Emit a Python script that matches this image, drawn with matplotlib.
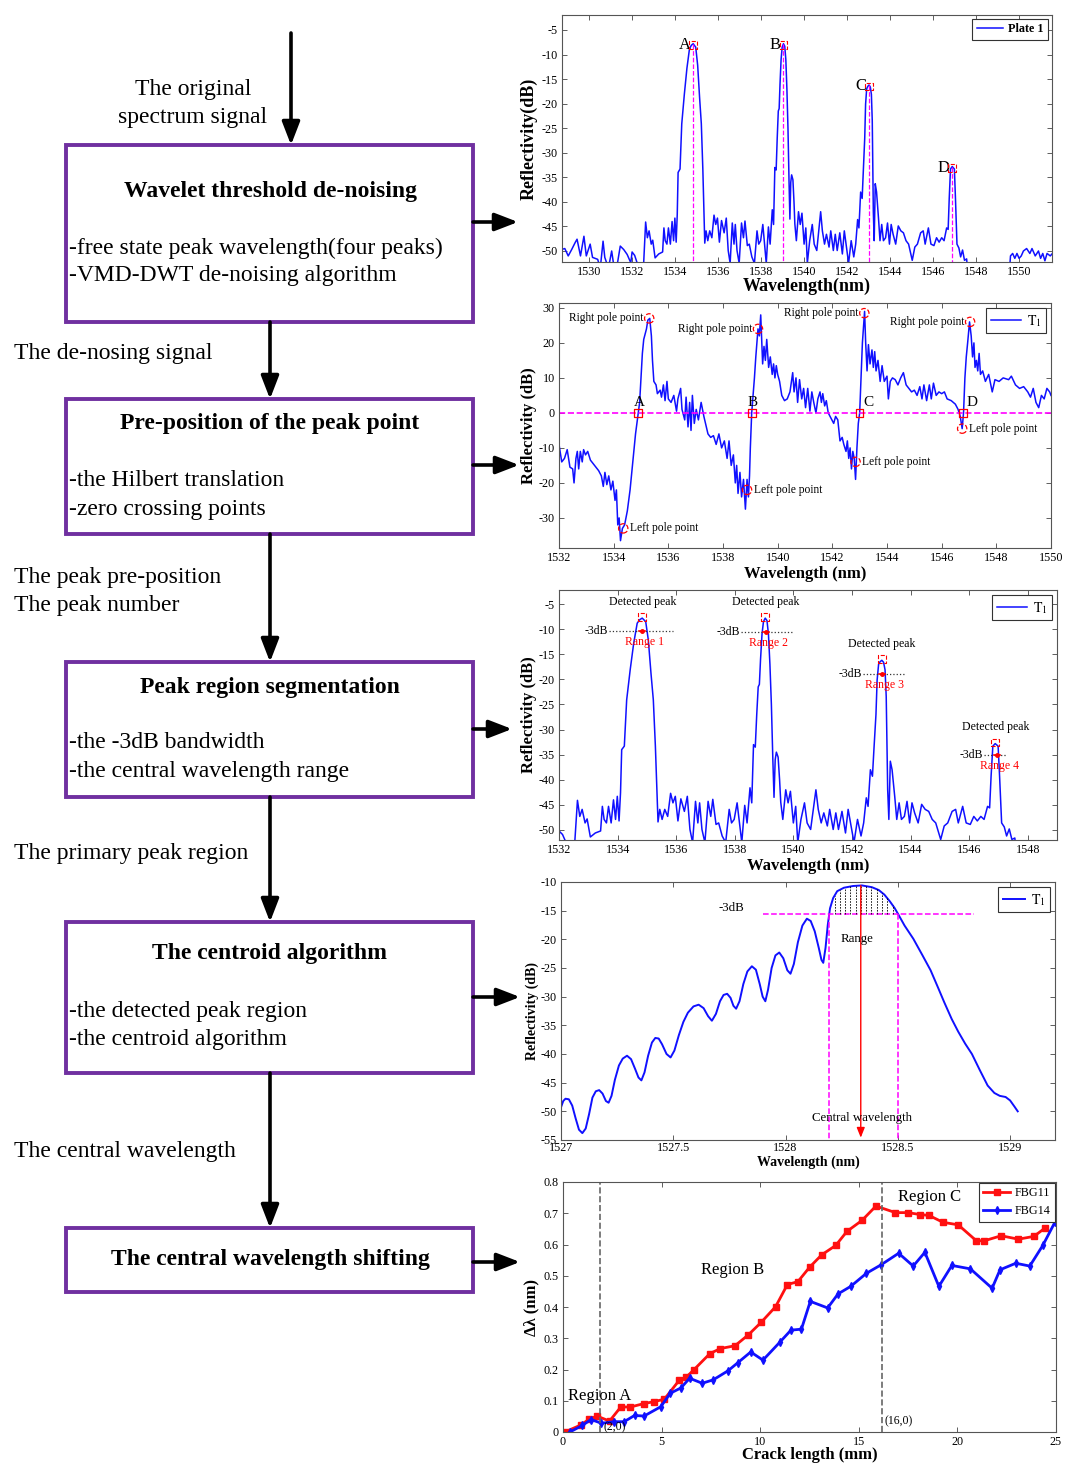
import numpy as np
import matplotlib
matplotlib.use("Agg")
import matplotlib.pyplot as plt
from matplotlib.patches import Rectangle

plt.rcParams['font.family'] = ['Liberation Serif', 'DejaVu Serif']
plt.rcParams['mathtext.fontset'] = 'stix'
plt.rcParams['axes.unicode_minus'] = False

W, H = 1065, 1463

# ---------------- data ----------------
# measured reflection spectrum (plots 1 and 3)
wl_spec = [1528.71, 1528.87, 1529.03, 1529.19, 1529.35, 1529.44, 1529.60, 1529.76, 1529.87, 1530.05,
           1530.16, 1530.40, 1530.52, 1530.65, 1530.73, 1530.90, 1531.05, 1531.13, 1531.30, 1531.45,
           1531.61, 1531.77, 1531.94, 1532.00, 1532.12, 1532.24, 1532.53, 1532.63, 1532.71, 1532.79,
           1532.89, 1532.96, 1533.07, 1533.24, 1533.42, 1533.48, 1533.54, 1533.62, 1533.69, 1533.78,
           1533.86, 1533.93, 1533.99, 1534.05, 1534.10, 1534.14, 1534.23, 1534.31, 1534.43, 1534.55,
           1534.67, 1534.76, 1534.84, 1534.96, 1535.05, 1535.14, 1535.22, 1535.29, 1535.35, 1535.38,
           1535.44, 1535.52, 1535.61, 1535.71, 1535.81, 1535.89, 1535.97, 1536.06, 1536.16, 1536.28,
           1536.38, 1536.47, 1536.56, 1536.66, 1536.74, 1536.80, 1536.88, 1536.98, 1537.09, 1537.18,
           1537.25, 1537.36, 1537.45, 1537.57, 1537.69, 1537.81, 1537.89, 1537.98, 1538.08, 1538.16,
           1538.24, 1538.34, 1538.42, 1538.52, 1538.58, 1538.64, 1538.70, 1538.75, 1538.80, 1538.84,
           1538.88, 1538.93, 1538.98, 1539.04, 1539.10, 1539.15, 1539.20, 1539.25, 1539.30, 1539.34,
           1539.38, 1539.42, 1539.48, 1539.53, 1539.57, 1539.64, 1539.74, 1539.82, 1539.90, 1540.00,
           1540.08, 1540.15, 1540.26, 1540.38, 1540.47, 1540.59, 1540.77, 1540.85, 1540.95, 1541.04,
           1541.16, 1541.24, 1541.36, 1541.45, 1541.54, 1541.66, 1541.78, 1541.87, 1541.99, 1542.07,
           1542.19, 1542.31, 1542.40, 1542.49, 1542.55, 1542.63, 1542.70, 1542.75, 1542.82, 1542.86,
           1542.91, 1542.96, 1543.02, 1543.08, 1543.13, 1543.17, 1543.22, 1543.26, 1543.31, 1543.37,
           1543.46, 1543.53, 1543.61, 1543.69, 1543.79, 1543.88, 1543.97, 1544.05, 1544.14, 1544.26,
           1544.38, 1544.50, 1544.62, 1544.74, 1544.86, 1545.03, 1545.15, 1545.27, 1545.42, 1545.54,
           1545.63, 1545.78, 1545.90, 1546.04, 1546.16, 1546.28, 1546.40, 1546.51, 1546.63, 1546.70,
           1546.75, 1546.81, 1546.89, 1546.99, 1547.04, 1547.11, 1547.20, 1547.28, 1547.37, 1547.46,
           1547.56, 1547.60, 1547.70, 1549.50, 1549.60, 1549.70, 1549.80, 1549.90, 1550.00, 1550.10,
           1550.20, 1550.35, 1550.50, 1550.60, 1550.75, 1550.90, 1551.00, 1551.10, 1551.20, 1551.30,
           1551.45, 1551.55]
db_spec = [-49.7, -49.5, -51.0, -49.7, -48.3, -47.6, -51.0, -47.0, -51.0, -48.6,
           -51.3, -51.7, -53.5, -48.0, -51.3, -53.5, -50.0, -52.4, -53.0, -49.0,
           -49.7, -50.7, -52.4, -50.2, -50.9, -52.5, -53.2, -44.1, -47.3, -45.9,
           -48.6, -47.8, -51.4, -50.6, -50.2, -45.3, -47.9, -48.6, -45.3, -48.6,
           -44.0, -47.9, -43.3, -48.2, -42.6, -34.0, -33.3, -24.1, -18.1, -12.8,
           -8.8, -8.1, -7.8, -8.5, -12.2, -18.8, -24.1, -33.3, -43.3, -48.4,
           -45.9, -47.9, -45.9, -47.3, -42.7, -44.6, -43.3, -48.2, -43.8, -46.3,
           -43.3, -49.9, -52.5, -44.3, -48.6, -44.6, -49.9, -52.5, -44.3, -47.3,
           -43.9, -48.9, -48.6, -51.2, -52.5, -45.9, -48.6, -47.9, -44.6, -48.6,
           -52.5, -45.1, -48.6, -41.6, -44.6, -33.0, -33.5, -27.0, -21.5, -21.0,
           -16.0, -11.0, -8.5, -7.8, -8.3, -11.0, -17.0, -25.0, -36.0, -43.5,
           -36.0, -34.5, -35.5, -40.0, -44.5, -47.9, -42.0, -44.6, -42.3, -48.6,
           -45.3, -52.5, -47.9, -44.6, -48.6, -49.9, -42.0, -45.9, -48.6, -46.6,
           -49.2, -45.9, -49.9, -46.6, -49.9, -46.3, -50.6, -45.9, -49.9, -52.5,
           -47.9, -51.2, -48.6, -43.6, -45.3, -38.0, -39.3, -34.0, -27.0, -20.1,
           -17.0, -16.5, -16.2, -16.6, -18.1, -23.4, -42.0, -47.9, -36.3, -38.0,
           -43.3, -47.9, -44.6, -47.9, -47.3, -44.3, -48.6, -44.6, -46.6, -48.6,
           -44.9, -45.9, -46.3, -47.9, -48.6, -51.9, -49.2, -48.6, -46.3, -45.9,
           -48.6, -45.3, -48.6, -48.9, -47.3, -48.2, -47.3, -47.9, -45.3, -45.6,
           -39.3, -33.3, -32.8, -33.3, -39.3, -48.6, -49.4, -51.2, -49.8, -51.9,
           -51.6, -53.9, -57.0, -57.0, -51.0, -50.5, -51.5, -50.5, -51.5, -51.0,
           -50.0, -49.5, -50.5, -49.5, -51.0, -50.0, -51.5, -50.5, -52.0, -50.5,
           -51.0, -50.5]

# peak positions found (A-D)
peak_labels = ['A', 'B', 'C', 'D']
peak_wl = [1534.84, 1539.04, 1543.02, 1546.89]
peak_db = [-7.8, -7.8, -16.2, -32.8]

# Hilbert transform of the spectrum (plot 2)
wl_hil = [1532.00, 1532.10, 1532.20, 1532.30, 1532.40, 1532.50, 1532.55, 1532.62, 1532.67, 1532.72,
          1532.78, 1532.85, 1532.90, 1532.97, 1533.05, 1533.15, 1533.30, 1533.45, 1533.55, 1533.62,
          1533.68, 1533.75, 1533.82, 1533.90, 1533.97, 1534.05, 1534.10, 1534.15, 1534.20, 1534.25,
          1534.32, 1534.40, 1534.50, 1534.60, 1534.70, 1534.80, 1534.90, 1534.95, 1535.00, 1535.05,
          1535.10, 1535.20, 1535.25, 1535.32, 1535.38, 1535.42, 1535.47, 1535.55, 1535.60, 1535.70,
          1535.75, 1535.82, 1535.88, 1535.95, 1536.00, 1536.10, 1536.20, 1536.30, 1536.35, 1536.45,
          1536.50, 1536.60, 1536.65, 1536.72, 1536.78, 1536.83, 1536.88, 1536.95, 1537.02, 1537.10,
          1537.20, 1537.30, 1537.45, 1537.55, 1537.65, 1537.75, 1537.85, 1537.95, 1538.05, 1538.15,
          1538.22, 1538.30, 1538.38, 1538.45, 1538.50, 1538.55, 1538.62, 1538.68, 1538.75, 1538.82,
          1538.88, 1538.93, 1538.97, 1539.00, 1539.05, 1539.10, 1539.15, 1539.20, 1539.28, 1539.33,
          1539.38, 1539.45, 1539.50, 1539.55, 1539.60, 1539.67, 1539.73, 1539.80, 1539.85, 1539.90,
          1539.95, 1540.00, 1540.07, 1540.15, 1540.25, 1540.35, 1540.45, 1540.55, 1540.60, 1540.67,
          1540.73, 1540.80, 1540.88, 1540.95, 1541.02, 1541.10, 1541.18, 1541.25, 1541.32, 1541.40,
          1541.47, 1541.55, 1541.60, 1541.65, 1541.72, 1541.78, 1541.85, 1541.95, 1542.05, 1542.12,
          1542.20, 1542.28, 1542.36, 1542.42, 1542.50, 1542.55, 1542.60, 1542.65, 1542.70, 1542.75,
          1542.80, 1542.85, 1542.90, 1542.95, 1543.00, 1543.05, 1543.10, 1543.18, 1543.22, 1543.27,
          1543.32, 1543.38, 1543.45, 1543.50, 1543.55, 1543.60, 1543.67, 1543.75, 1543.82, 1543.90,
          1544.00, 1544.05, 1544.12, 1544.20, 1544.30, 1544.40, 1544.50, 1544.60, 1544.70, 1544.80,
          1544.90, 1545.00, 1545.10, 1545.20, 1545.28, 1545.35, 1545.45, 1545.55, 1545.62, 1545.70,
          1545.80, 1545.90, 1546.00, 1546.10, 1546.20, 1546.35, 1546.50, 1546.60, 1546.68, 1546.75,
          1546.80, 1546.85, 1546.90, 1546.95, 1547.02, 1547.08, 1547.13, 1547.18, 1547.22, 1547.27,
          1547.32, 1547.37, 1547.42, 1547.50, 1547.60, 1547.72, 1547.85, 1547.95, 1548.10, 1548.25,
          1548.45, 1548.55, 1548.70, 1548.85, 1549.00, 1549.15, 1549.25, 1549.35, 1549.45, 1549.55,
          1549.65, 1549.75, 1549.85, 1549.95, 1550.00]
h_hil = [-9.0, -14.0, -13.0, -10.5, -15.5, -16.0, -20.0, -13.0, -11.0, -16.0,
         -11.0, -14.0, -10.5, -12.0, -11.0, -13.5, -15.0, -16.5, -18.0, -21.0,
         -17.0, -20.5, -18.0, -22.0, -19.5, -25.0, -22.0, -32.0, -30.0, -36.5,
         -33.0, -32.0, -28.0, -22.0, -14.0, -6.0, 0.0, 3.0, 10.0, 17.0,
         21.0, 24.0, 26.5, 27.0, 22.0, 15.0, 9.0, 8.0, 5.5, 6.5,
         4.5, 8.0, 3.5, 9.0, 4.0, 3.0, 5.0, 0.5, 4.0, 7.0,
         1.0, -2.0, 4.5, -4.0, 3.0, -5.0, 5.0, -3.0, 1.0, -2.0,
         3.0, -1.0, -6.0, -7.0, -6.5, -9.0, -6.0, -10.0, -8.0, -13.0,
         -8.0, -15.0, -12.0, -20.0, -15.0, -23.0, -17.0, -24.0, -19.0, -27.5,
         -19.0, -24.0, -18.0, -10.0, 0.0, 5.0, 10.0, 16.0, 24.0, 22.0,
         28.0, 14.0, 19.0, 15.0, 21.0, 13.0, 16.0, 11.0, 14.0, 10.0,
         13.5, 11.0, 9.0, 5.0, 3.5, 4.0, 6.0, 11.5, 6.0, 10.0,
         3.0, 9.5, 4.0, 7.0, 1.5, 7.0, 0.5, 6.0, 3.0, 0.0,
         4.0, 6.0, 3.0, 5.5, 2.0, 3.5, 0.0, -1.5, -3.0, -1.0,
         -2.0, -8.0, -7.0, -9.0, -11.0, -8.0, -13.0, -10.0, -16.0, -11.0,
         -13.0, -19.0, -10.0, -3.0, 0.0, 10.0, 20.0, 29.0, 20.0, 12.0,
         19.5, 14.0, 18.0, 13.0, 17.5, 12.0, 15.0, 9.0, 13.5, 9.0,
         10.5, 4.0, 9.0, 10.0, 9.5, 8.0, 10.0, 11.5, 8.0, 7.0,
         6.0, 6.5, 5.0, 7.5, 4.0, 8.0, 3.5, 8.0, 4.0, 8.5,
         5.0, 6.0, 5.5, 6.0, 4.0, 3.5, 2.5, 1.0, -1.0, -4.5,
         0.0, 10.0, 16.0, 20.0, 26.0, 22.0, 16.0, 20.0, 13.0, 15.0,
         12.0, 17.0, 11.0, 12.0, 9.0, 11.0, 6.0, 9.5, 9.0, 10.0,
         9.5, 10.5, 8.0, 7.0, 7.5, 6.0, 4.5, 7.0, 3.0, 1.5,
         5.0, 4.0, 7.0, 6.0, 5.0]

zero_wl = [1534.90, 1539.05, 1543.00, 1546.79]
right_pole_wl = [1535.30, 1539.28, 1543.17, 1547.04]
right_pole_h = [27.0, 24.0, 28.5, 26.0]
left_pole_wl = [1534.35, 1538.88, 1542.85, 1546.75]
left_pole_h = [-33.0, -22.0, -14.0, -4.5]

# -3 dB ranges (plot 3)
range_names = ['Range 1', 'Range 2', 'Range 3', 'Range 4']
range_db = [-10.4, -10.5, -19.0, -35.1]
range_mid = [1534.84, 1539.07, 1543.02, 1546.95]
dotted_lo = [1533.70, 1538.20, 1542.37, 1546.50]
dotted_hi = [1535.90, 1540.00, 1543.80, 1547.30]

# single peak zoom (plot 4)
wl_zoom = [1527.000, 1527.010, 1527.020, 1527.035, 1527.050, 1527.065, 1527.080, 1527.095, 1527.110, 1527.125,
           1527.140, 1527.155, 1527.170, 1527.185, 1527.200, 1527.212, 1527.225, 1527.240, 1527.258, 1527.275,
           1527.294, 1527.312, 1527.330, 1527.345, 1527.358, 1527.372, 1527.388, 1527.405, 1527.420, 1527.435,
           1527.450, 1527.470, 1527.488, 1527.505, 1527.525, 1527.545, 1527.565, 1527.590, 1527.613, 1527.635,
           1527.655, 1527.672, 1527.690, 1527.708, 1527.724, 1527.740, 1527.755, 1527.768, 1527.780, 1527.795,
           1527.812, 1527.830, 1527.850, 1527.868, 1527.885, 1527.898, 1527.910, 1527.922, 1527.938, 1527.955,
           1527.972, 1527.990, 1528.008, 1528.022, 1528.037, 1528.055, 1528.075, 1528.095, 1528.112, 1528.130,
           1528.148, 1528.160, 1528.168, 1528.178, 1528.188, 1528.198, 1528.212, 1528.230, 1528.260, 1528.300,
           1528.340, 1528.384, 1528.415, 1528.440, 1528.465, 1528.485, 1528.500, 1528.530, 1528.569, 1528.610,
           1528.646, 1528.680, 1528.707, 1528.740, 1528.769, 1528.800, 1528.830, 1528.865, 1528.900, 1528.930,
           1528.954, 1528.980, 1529.000, 1529.020, 1529.034]
db_zoom = [-49.3, -48.2, -47.8, -47.9, -49.0, -51.2, -53.2, -53.8, -53.0, -50.5,
           -47.6, -46.5, -46.3, -46.9, -48.2, -48.5, -47.3, -44.5, -42.0, -40.8,
           -40.3, -40.9, -42.6, -44.1, -44.6, -43.2, -40.3, -38.0, -37.2, -37.3,
           -38.3, -40.0, -40.6, -39.4, -36.7, -34.4, -32.8, -31.7, -31.4, -32.0,
           -33.4, -34.2, -33.0, -30.8, -29.7, -29.5, -30.2, -31.6, -32.1, -30.8,
           -27.8, -25.6, -24.7, -25.3, -27.8, -30.0, -30.8, -28.8, -25.0, -22.8,
           -22.3, -23.3, -25.4, -26.0, -24.3, -20.5, -17.6, -16.4, -16.8, -18.6,
           -21.5, -23.6, -24.1, -21.5, -17.5, -14.6, -12.8, -11.6, -11.0, -10.7,
           -10.6, -10.9, -11.4, -12.2, -13.4, -14.5, -15.5, -17.6, -19.9, -22.8,
           -25.4, -28.5, -31.0, -33.9, -36.1, -38.2, -40.0, -42.8, -45.5, -46.8,
           -47.3, -47.5, -48.1, -49.2, -50.0]
level_3db = -15.5
range_lo, range_hi = 1528.195, 1528.500
central_wl = 1528.335

# central wavelength shift vs crack length (plot 5)
crack_11 = [0.09, 0.89, 1.33, 1.72, 2.36, 2.93, 3.42, 4.11, 4.61, 5.14, 5.90, 6.26, 6.65, 7.45, 7.98,
            8.72, 9.40, 10.05, 10.78, 11.38, 11.91, 12.50, 13.12, 13.83, 14.40, 15.16, 15.87, 16.86,
            17.50, 18.09, 18.56, 19.27, 20.04, 20.96, 21.37, 22.22, 23.09, 23.88, 24.43]
dl_11 = [0.000, 0.022, 0.041, 0.051, 0.035, 0.080, 0.080, 0.091, 0.097, 0.105, 0.166, 0.176, 0.200,
         0.251, 0.267, 0.276, 0.311, 0.351, 0.401, 0.472, 0.481, 0.527, 0.567, 0.597, 0.642, 0.677,
         0.723, 0.702, 0.702, 0.696, 0.693, 0.671, 0.663, 0.612, 0.612, 0.628, 0.617, 0.626, 0.652]
crack_14 = [0.35, 0.98, 1.42, 1.95, 2.57, 3.10, 3.63, 4.11, 4.96, 5.44, 5.98, 6.42, 7.06, 7.62, 8.37,
            8.87, 9.52, 10.14, 10.99, 11.56, 12.09, 12.54, 13.42, 13.95, 14.59, 15.39, 16.13, 17.02,
            17.76, 18.35, 19.06, 19.72, 20.66, 21.76, 22.16, 22.96, 23.67, 24.33, 24.95]
dl_14 = [0.000, 0.021, 0.040, 0.028, 0.033, 0.033, 0.053, 0.051, 0.081, 0.124, 0.141, 0.172, 0.156,
         0.167, 0.196, 0.222, 0.256, 0.230, 0.287, 0.326, 0.329, 0.418, 0.397, 0.442, 0.466, 0.508,
         0.535, 0.572, 0.531, 0.575, 0.466, 0.533, 0.522, 0.460, 0.519, 0.540, 0.531, 0.597, 0.672]
region_bounds = [1.86, 16.19]

# ---------------- figure ----------------
fig = plt.figure(figsize=(W / 100, H / 100), dpi=100)

# flowchart on a full-figure pixel canvas
bg = fig.add_axes([0, 0, 1, 1])
bg.set_xlim(0, W)
bg.set_ylim(H, 0)
bg.axis('off')

PURPLE = '#7030A0'
boxes = [(66, 145, 473, 322), (66, 399, 473, 534), (66, 662, 473, 797),
         (66, 922, 473, 1073), (66, 1228, 473, 1292)]
titles = ['Wavelet threshold de-noising', 'Pre-position of the peak point',
          'Peak region segmentation', 'The centroid algorithm',
          'The central wavelength shifting']
title_y = [191, 424, 687, 954, 1260]
bullets = [['-free state peak wavelength(four peaks)', '-VMD-DWT de-noising algorithm'],
           ['-the Hilbert translation', '-zero crossing points'],
           ['-the -3dB bandwidth', '-the central wavelength range'],
           ['-the detected peak region', '-the centroid algorithm'],
           []]
bullet_y = [[248, 276], [481, 509], [743, 772], [1012, 1040], []]
for (l, t, r, b), ttl, ty, bl, by in zip(boxes, titles, title_y, bullets, bullet_y):
    bg.add_patch(Rectangle((l, t), r - l, b - t, fill=False, ec=PURPLE, lw=2.8))
    bg.text(270, ty, ttl, ha='center', va='center', fontsize=17, fontweight='bold')
    for s, yy in zip(bl, by):
        bg.text(69, yy, s, ha='left', va='center', fontsize=17)

arrow_kw = dict(arrowstyle='-|>,head_length=0.7,head_width=0.27', lw=2.6, color='black',
                shrinkA=0, shrinkB=0, mutation_scale=20)
down_arrows = [((291, 33), (291, 145)), ((270, 322), (270, 399)), ((270, 534), (270, 662)),
               ((270, 797), (270, 922)), ((270, 1073), (270, 1228))]
for p0, p1 in down_arrows:
    bg.annotate('', xy=p1, xytext=p0, arrowprops=arrow_kw)
for yy, xe in zip([222, 465, 729, 997, 1262], [518, 519, 512, 520, 520]):
    bg.annotate('', xy=(xe, yy), xytext=(473, yy), arrowprops=arrow_kw)

side = [(193, 89, 'The original', 'center'), (193, 117, 'spectrum signal', 'center'),
        (14, 353, 'The de-nosing signal', 'left'), (14, 578, 'The peak pre-position', 'left'),
        (14, 606, 'The peak number', 'left'), (14, 853, 'The primary peak region', 'left'),
        (14, 1152, 'The central wavelength', 'left')]
for x, y, s, ha in side:
    bg.text(x, y, s, ha=ha, va='center', fontsize=17)


def add_ax(l, t, r, b):
    ax = fig.add_axes([l / W, 1 - b / H, (r - l) / W, (b - t) / H])
    ax.tick_params(direction='in', top=True, right=True, length=3.5, width=0.6,
                   color='#444444', labelsize=8.7, pad=3)
    for sp in ax.spines.values():
        sp.set_color('#555555')
        sp.set_linewidth(0.8)
    return ax


def legend(ax, **kw):
    opts = dict(loc='upper right', fancybox=False, edgecolor='#333333', framealpha=1,
                borderpad=0.35, handlelength=2.2, handletextpad=0.4, borderaxespad=0.35)
    opts.update(kw)
    lg = ax.legend(**opts)
    lg.get_frame().set_linewidth(0.8)
    return lg


BLUE = '#1010FF'

# ---- plot 1 ----
ax1 = add_ax(562, 15, 1052, 262)
ax1.plot(wl_spec, db_spec, color=BLUE, lw=1.1, label='Plate 1')
ax1.set_xlim(1528.74, 1551.53)
ax1.set_ylim(-52.24, -1.95)
ax1.set_xticks(np.arange(1530, 1551, 2))
ax1.set_yticks(np.arange(-50, -4, 5))
for x, y, s in zip(peak_wl, peak_db, peak_labels):
    ax1.plot([x, x], [y, -60], color='magenta', ls='--', lw=0.9)
    ax1.text(x - 0.12, y - 0.3, s, ha='right', va='center', fontsize=12)
ax1.scatter(peak_wl, np.array(peak_db) - 0.3, s=30, marker='s', facecolors='none',
            edgecolors='red', linestyles='--', linewidths=0.8, zorder=5)
ax1.set_xlabel('Wavelength(nm)', fontsize=13, fontweight='bold')
ax1.set_ylabel('Reflectivity(dB)', fontsize=13, fontweight='bold')
ax1.xaxis.set_label_coords(0.5, -0.065)
ax1.yaxis.set_label_coords(-0.05, 0.5)
lg = legend(ax1, fontsize=8.7)
for t in lg.get_texts():
    t.set_fontweight('bold')

# ---- plot 2 ----
ax2 = add_ax(559, 303, 1051, 548)
ax2.plot(wl_hil, h_hil, color=BLUE, lw=1.1, label=r'$\mathrm{T}_1$')
ax2.axhline(0, color='magenta', ls='--', lw=1.2)
ax2.set_xlim(1532, 1550)
ax2.set_ylim(-38.6, 31.4)
ax2.set_xticks(np.arange(1532, 1551, 2))
ax2.set_yticks(np.arange(-30, 31, 10))
ax2.scatter(zero_wl, [0] * 4, s=30, marker='s', facecolors='none', edgecolors='red',
            linewidths=0.9, zorder=5)
for x, s in zip(zero_wl, peak_labels):
    ax2.text(x + 0.05 if s in 'AB' else x + 0.12, 1.2, s, ha='left' if s in 'CD' else 'center',
             va='bottom', fontsize=11)
ax2.scatter(right_pole_wl, right_pole_h, s=45, marker='o', facecolors='none', edgecolors='red',
            linestyles='--', linewidths=0.9, zorder=5)
ax2.scatter(left_pole_wl, left_pole_h, s=45, marker='o', facecolors='none', edgecolors='red',
            linestyles='--', linewidths=0.9, zorder=5)
for x, y in zip(right_pole_wl, right_pole_h):
    ax2.text(x - 0.2, y, 'Right pole point', ha='right', va='center', fontsize=8.3)
for x, y in zip(left_pole_wl, left_pole_h):
    ax2.text(x + 0.25, y, 'Left pole point', ha='left', va='center', fontsize=8.3)
ax2.set_xlabel('Wavelength (nm)', fontsize=12, fontweight='bold')
ax2.set_ylabel('Reflectivity (dB)', fontsize=12, fontweight='bold')
ax2.xaxis.set_label_coords(0.5, -0.075)
ax2.yaxis.set_label_coords(-0.045, 0.5)
legend(ax2, fontsize=10)

# ---- plot 3 ----
ax3 = add_ax(559, 590, 1057, 840)
ax3.plot(wl_spec, db_spec, color=BLUE, lw=1.1, label=r'$\mathrm{T}_1$')
ax3.set_xlim(1532, 1549)
ax3.set_ylim(-52.0, -2.2)
ax3.set_xticks(np.arange(1532, 1549, 2))
ax3.set_yticks(np.arange(-50, -4, 5))
ax3.scatter(peak_wl, np.array(peak_db) + 0.2, s=30, marker='s', facecolors='none',
            edgecolors='red', linestyles='--', linewidths=0.8, zorder=5)
for i in range(4):
    ax3.plot([dotted_lo[i], dotted_hi[i]], [range_db[i]] * 2, color='#333333', ls=':', lw=0.9)
    ax3.plot([range_mid[i] - 0.1, range_mid[i] + 0.1], [range_db[i]] * 2, color='red', lw=1.2)
    ax3.plot(range_mid[i], range_db[i], 'o', color='red', ms=2.5)
    ax3.text(dotted_lo[i] - 0.03, range_db[i], '-3dB', ha='right', va='center', fontsize=8.5)
    ax3.text(range_mid[i] + 0.08, range_db[i] - 1.0, range_names[i], ha='center', va='top',
             fontsize=8.5, color='red')
    ax3.text(peak_wl[i], peak_db[i] + 2.1, 'Detected peak', ha='center', va='bottom', fontsize=8.5)
ax3.set_xlabel('Wavelength (nm)', fontsize=12, fontweight='bold')
ax3.set_ylabel('Reflectivity (dB)', fontsize=12, fontweight='bold')
ax3.xaxis.set_label_coords(0.5, -0.07)
ax3.yaxis.set_label_coords(-0.044, 0.5)
legend(ax3, fontsize=10)

# ---- plot 4 ----
ax4 = add_ax(561, 882, 1055, 1140)
ax4.plot(wl_zoom, db_zoom, color=BLUE, lw=1.4, label=r'$\mathrm{T}_1$')
ax4.set_xlim(1527, 1529.2)
ax4.set_ylim(-55, -10)
ax4.set_xticks([1527, 1527.5, 1528, 1528.5, 1529])
ax4.set_xticklabels(['1527', '1527.5', '1528', '1528.5', '1529'])
ax4.set_yticks(np.arange(-55, -9, 5))
ax4.tick_params(axis='x', pad=1.5)
ax4.plot([1527.9, 1528.84], [level_3db, level_3db], color='magenta', ls='--', lw=1.1)
for x in (range_lo, range_hi):
    ax4.plot([x, x], [level_3db, -55], color='magenta', ls='--', lw=1.1)
for x in np.linspace(range_lo, range_hi, 14)[1:-1]:
    ax4.plot([x, x], [level_3db, np.interp(x, wl_zoom, db_zoom)], color='black', ls='--',
             lw=0.6, dashes=(2, 1.5))
ax4.annotate('', xy=(central_wl, -54.6), xytext=(central_wl, np.interp(central_wl, wl_zoom, db_zoom)),
             arrowprops=dict(arrowstyle='-|>,head_length=0.5,head_width=0.2', color='red', lw=1.0,
                             shrinkA=0, shrinkB=0, mutation_scale=12))
ax4.text(1527.76, -14.5, '-3dB', ha='center', va='center', fontsize=9.3)
ax4.text(1528.32, -19.9, 'Range', ha='center', va='center', fontsize=9.3)
ax4.text(1528.34, -51.1, 'Central wavelength', ha='center', va='center', fontsize=9.3)
ax4.set_xlabel('Wavelength (nm)', fontsize=10, fontweight='bold')
ax4.set_ylabel('Reflectivity (dB)', fontsize=10, fontweight='bold')
ax4.xaxis.set_label_coords(0.5, -0.06)
ax4.yaxis.set_label_coords(-0.045, 0.5)
legend(ax4, fontsize=10, handlelength=1.6)

# ---- plot 5 ----
ax5 = add_ax(563, 1182, 1056, 1432)
ax5.plot(crack_11, dl_11, color='#FF1010', lw=2.0, marker='s', ms=4.5, label='FBG11')
ax5.plot(crack_14, dl_14, color=BLUE, lw=2.0, marker='d', ms=4.0, label='FBG14')
for x in region_bounds:
    ax5.axvline(x, color='#666666', ls='--', lw=1.2)
ax5.set_xlim(0, 25)
ax5.set_ylim(0, 0.8)
ax5.set_xticks(np.arange(0, 26, 5))
ax5.set_yticks(np.arange(0, 0.81, 0.1))
ax5.set_yticklabels(['0', '0.1', '0.2', '0.3', '0.4', '0.5', '0.6', '0.7', '0.8'])
ax5.text(1.86, 0.115, 'Region A', ha='center', va='center', fontsize=12)
ax5.text(8.6, 0.52, 'Region B', ha='center', va='center', fontsize=12)
ax5.text(18.6, 0.752, 'Region C', ha='center', va='center', fontsize=12)
ax5.text(2.05, 0.016, '(2,0)', ha='left', va='center', fontsize=8.5)
ax5.text(16.3, 0.035, '(16,0)', ha='left', va='center', fontsize=8.5)
ax5.set_xlabel('Crack length (mm)', fontsize=12, fontweight='bold')
ax5.set_ylabel('Δλ (nm)', fontsize=12, fontweight='bold')
ax5.xaxis.set_label_coords(0.5, -0.06)
ax5.yaxis.set_label_coords(-0.047, 0.5)
legend(ax5, fontsize=8.7, borderaxespad=0.1)

fig.savefig('out.png', dpi=100)
